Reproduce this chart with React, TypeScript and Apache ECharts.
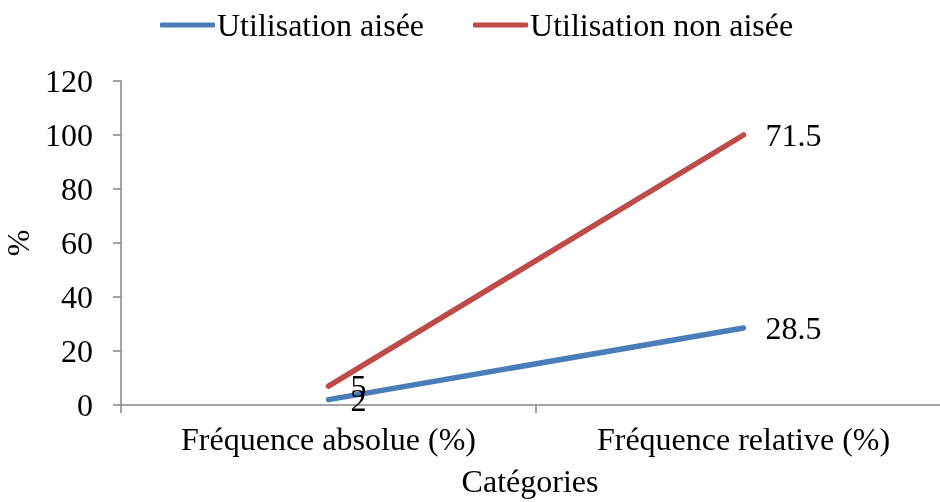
import React, { useEffect, useRef } from "react";
import * as echarts from "echarts";

const categories = ["Fréquence absolue (%)", "Fréquence relative (%)"];
const seriesNames = ["Utilisation aisée", "Utilisation non aisée"];
const aiseeValues = [2, 28.5];
const nonAiseeValues = [5, 71.5];
const yTicks = { min: 0, max: 120, interval: 20 };

const FONT = "'Liberation Serif', 'Times New Roman', serif";
const FS = 32;

export default function App() {
  const ref = useRef<HTMLDivElement>(null);
  useEffect(() => {
    if (!ref.current) return;
    const chart = echarts.init(ref.current, undefined, { renderer: "svg" });
    const labelStyle = {
      show: true,
      position: "right" as const,
      distance: 22,
      color: "#000",
      fontFamily: FONT,
      fontSize: FS,
    };
    chart.setOption({
      animation: false,
      textStyle: { fontFamily: FONT, color: "#000" },
      legend: {
        top: 9,
        left: 160,
        padding: 0,
        itemWidth: 55,
        itemHeight: 5,
        itemGap: 49,
        icon: "roundRect",
        textStyle: { fontFamily: FONT, fontSize: FS, color: "#000", padding: [0, 0, 0, -3] },
        data: seriesNames,
      },
      grid: {
        left: 121,
        right: -11,
        top: 81,
        bottom: 97,
        containLabel: false,
        outerBoundsMode: "none",
      },
      xAxis: {
        type: "category",
        data: categories,
        boundaryGap: true,
        name: "Catégories",
        nameLocation: "middle",
        nameGap: 61,
        nameTextStyle: {
          fontFamily: FONT,
          fontSize: FS,
          lineHeight: 30,
          color: "#000",
          padding: [0, 12, 0, 0],
        },
        axisLine: { lineStyle: { color: "#868686", width: 1.5 } },
        axisTick: { show: true, length: 8, lineStyle: { color: "#868686", width: 1.5 } },
        axisLabel: { margin: 18, fontFamily: FONT, fontSize: FS, color: "#000" },
      },
      yAxis: {
        type: "value",
        min: yTicks.min,
        max: yTicks.max,
        interval: yTicks.interval,
        name: "%",
        nameLocation: "middle",
        nameGap: 84,
        nameRotate: 90,
        nameTextStyle: { fontFamily: FONT, fontSize: FS, color: "#000" },
        axisLine: { show: true, lineStyle: { color: "#868686", width: 1.5 } },
        axisTick: { show: true, length: 8, lineStyle: { color: "#868686", width: 1.5 } },
        splitLine: { show: false },
        axisLabel: { margin: 28, fontFamily: FONT, fontSize: FS, color: "#000" },
      },
      series: [
        {
          name: seriesNames[0],
          type: "line",
          stack: "total",
          data: aiseeValues,
          showSymbol: true,
          symbol: "circle",
          symbolSize: 0.1,
          lineStyle: { color: "#4A7EBB", width: 5.5, cap: "round" },
          itemStyle: { color: "#4A7EBB" },
          label: labelStyle,
        },
        {
          name: seriesNames[1],
          type: "line",
          stack: "total",
          data: nonAiseeValues,
          showSymbol: true,
          symbol: "circle",
          symbolSize: 0.1,
          lineStyle: { color: "#BE4B48", width: 5.5, cap: "round" },
          itemStyle: { color: "#BE4B48" },
          label: labelStyle,
        },
      ],
    });
    return () => chart.dispose();
  }, []);
  return <div ref={ref} style={{ width: 940, height: 502, position: "fixed", left: 0, top: 0 }} />;
}
